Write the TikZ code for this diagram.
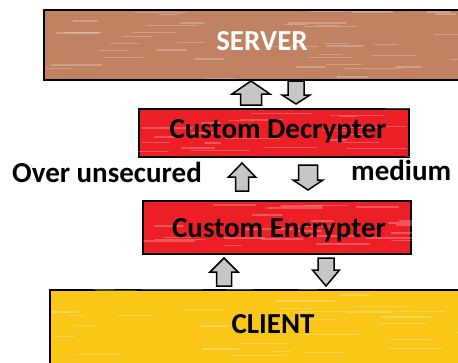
\documentclass[tikz,border=0pt]{standalone}
\usepackage{fontspec}
\setmainfont{Carlito}
\usetikzlibrary{positioning,calc}

\definecolor{srvbrown}{RGB}{192,128,98}
\definecolor{cryptred}{RGB}{236,30,38}
\definecolor{cliyellow}{RGB}{250,199,24}
\definecolor{arrgray}{RGB}{198,198,198}

% block arrow: x, tip y, tail y, head base y, half head width, half shaft width
\newcommand\blockarrow[6]{%
  \draw[blockarr] (#1,#2) -- (#1+#5,#4) -- (#1+#6,#4) -- (#1+#6,#3)
    -- (#1-#6,#3) -- (#1-#6,#4) -- (#1-#5,#4) -- cycle;}

% light brush streaks inside a box node
\newcommand\streaks[2]{%
  \begin{scope}
    \clip (#1.south west) rectangle (#1.north east);
    \foreach \i in {1,...,#2}{
      \pgfmathsetmacro\sx{rnd}
      \pgfmathsetmacro\sy{rnd}
      \pgfmathsetmacro\sl{15+rnd*45}
      \coordinate (sa) at ($(#1.north west)!\sx!(#1.north east)$);
      \coordinate (sb) at ($(#1.north west)!\sy!(#1.south west)$);
      \draw[streak] (sa |- sb) -- ++(\sl,0);
    }
  \end{scope}}

\begin{document}
\begin{tikzpicture}[x=1pt,y=-1pt,line join=miter,
  box/.style={draw=black,line width=1.8pt,inner sep=0pt},
  lbl/.style={font=\bfseries\fontsize{29}{34}\selectfont,inner sep=0pt,anchor=base},
  blockarr/.style={draw=black,line width=1.5pt,fill=arrgray},
  streak/.style={white,opacity=0.25,line width=1.4pt,line cap=round}]
  \useasboundingbox (0,0) rectangle (458,362);
  \clip (0,0) rectangle (458,362);
  \pgfmathsetseed{11}

  % boxes
  \node[box,fill=srvbrown,minimum width=445,minimum height=70,anchor=north west] (server) at (43,9) {};
  \node[box,fill=cryptred,minimum width=270,minimum height=48,anchor=north west] (dec) at (138,108) {};
  \node[box,fill=cryptred,minimum width=268,minimum height=53,anchor=north west] (enc) at (142,200) {};
  \node[box,fill=cliyellow,minimum width=450,minimum height=100,anchor=north west] (client) at (49,289) {};
  \streaks{server}{40}
  \streaks{dec}{25}
  \streaks{enc}{25}
  \streaks{client}{45}

  % labels
  \node[lbl,text=white] (serverlbl) at (262,50) {SERVER};
  \node[lbl] (declbl) at (278,138) {Custom Decrypter};
  \node[lbl] (enclbl) at (279,237) {Custom Encrypter};
  \node[lbl] (clientlbl) at (273,333) {CLIENT};
  \node[lbl,anchor=base west] (overlbl) at (12,182) {Over unsecured};
  \node[lbl,anchor=base west] (mediumlbl) at (351,180) {medium};

  % arrows between the layers
  \blockarrow{251}{81}{105}{94}{19}{10.5}
  \blockarrow{296}{104}{81}{95}{14}{8}
  \blockarrow{242}{163}{191}{177}{13.5}{6.5}
  \blockarrow{308}{190}{165}{180}{15}{9.5}
  \blockarrow{224}{258}{286}{272}{14}{7.5}
  \blockarrow{326}{286}{258}{270}{13.5}{8}
\end{tikzpicture}
\end{document}
